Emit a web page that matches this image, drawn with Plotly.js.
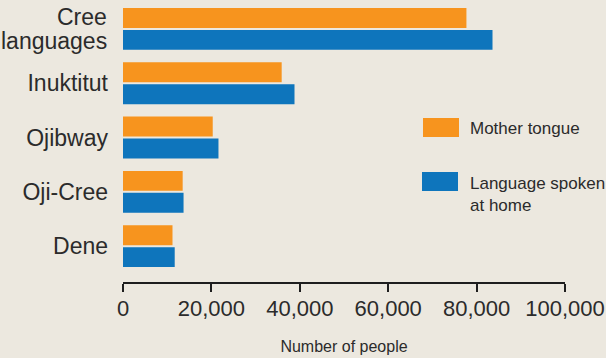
<!DOCTYPE html>
<html>
<head>
<meta charset="utf-8">
<script src="https://cdn.plot.ly/plotly-3.0.1.min.js"></script>
<style>
html,body{margin:0;padding:0;background:#ECE8DF;}
#chart{width:606px;height:358px;}
</style>
</head>
<body>
<div id="chart"></div>
<script>
const categories = ["Cree languages", "Inuktitut", "Ojibway", "Oji-Cree", "Dene"];
const motherTongue = [77700, 35900, 20300, 13500, 11200];
const spokenAtHome = [83600, 38800, 21600, 13700, 11700];
const xTicks = [0, 20000, 40000, 60000, 80000, 100000];
const xTickLabels = ["0", "20,000", "40,000", "60,000", "80,000", "100,000"];
const seriesNames = ["Mother tongue", "Language spoken<br>at home"];

const FONT = "'Liberation Sans', Arial, sans-serif";
const ORANGE = "#F7941E";
const BLUE = "#0E75BC";
const TEXT = "#2B2B2B";

const traces = [
  {type: "bar", orientation: "h", name: seriesNames[0], y: categories, x: motherTongue,
   marker: {color: ORANGE}, hoverinfo: "x+y"},
  {type: "bar", orientation: "h", name: seriesNames[1], y: categories, x: spokenAtHome,
   marker: {color: BLUE}, hoverinfo: "x+y"}
];

// The two-line first label is drawn as two annotations so its line spacing can match.
const yTickText = categories.map((c, i) => i === 0 ? "" : c);
const firstLabelLines = categories[0].split(" ");

const layout = {
  width: 606, height: 358,
  paper_bgcolor: "#ECE8DF", plot_bgcolor: "#ECE8DF",
  margin: {l: 123, r: 41, t: 1, b: 76},
  barmode: "group", bargap: 0.193, bargroupgap: 0.091,
  showlegend: false,
  font: {family: FONT, color: TEXT},
  xaxis: {
    range: [0, 100000], tickvals: xTicks, ticktext: xTickLabels,
    showgrid: false, zeroline: false, showline: true, linecolor: "#1E1E1E", linewidth: 2,
    ticks: "outside", ticklen: 8, tickwidth: 2, tickcolor: "#1E1E1E",
    ticklabeloverflow: "allow", ticklabelstandoff: -2,
    tickfont: {family: FONT, size: 22, color: TEXT},
    title: {text: "Number of people", font: {family: FONT, size: 16, color: TEXT}, standoff: 20}
  },
  yaxis: {
    type: "category", range: [4.66, -0.514],
    tickvals: categories, ticktext: yTickText,
    showgrid: false, zeroline: false, showline: false, ticks: "",
    ticklabelstandoff: 14,
    tickfont: {family: FONT, size: 23, color: TEXT}
  },
  shapes: [
    {type: "rect", xref: "paper", yref: "paper", x0: (423-123)/442, x1: (459-123)/442,
     y0: 1-(137-1)/281, y1: 1-(118-1)/281, fillcolor: ORANGE, line: {width: 0}},
    {type: "rect", xref: "paper", yref: "paper", x0: (422-123)/442, x1: (458-123)/442,
     y0: 1-(191-1)/281, y1: 1-(172-1)/281, fillcolor: BLUE, line: {width: 0}}
  ],
  annotations: [
    {xref: "paper", yref: "y", x: 0, y: categories[0], xanchor: "right", yanchor: "middle",
     xshift: -14, yshift: 12, text: firstLabelLines[0], showarrow: false,
     font: {family: FONT, size: 23, color: TEXT}},
    {xref: "paper", yref: "y", x: 0, y: categories[0], xanchor: "right", yanchor: "middle",
     xshift: -14, yshift: -12, text: firstLabelLines[1], showarrow: false,
     font: {family: FONT, size: 23, color: TEXT}},
    {xref: "paper", yref: "paper", x: (468-123)/442, y: 1-(128-1)/281, xanchor: "left", yanchor: "middle",
     text: seriesNames[0], showarrow: false, align: "left", font: {family: FONT, size: 17, color: TEXT}},
    {xref: "paper", yref: "paper", x: (468-123)/442, y: 1-(194-1)/281, xanchor: "left", yanchor: "middle",
     text: seriesNames[1], showarrow: false, align: "left", font: {family: FONT, size: 17, color: TEXT}}
  ]
};

Plotly.newPlot("chart", traces, layout, {displayModeBar: false, staticPlot: true});
</script>
</body>
</html>
